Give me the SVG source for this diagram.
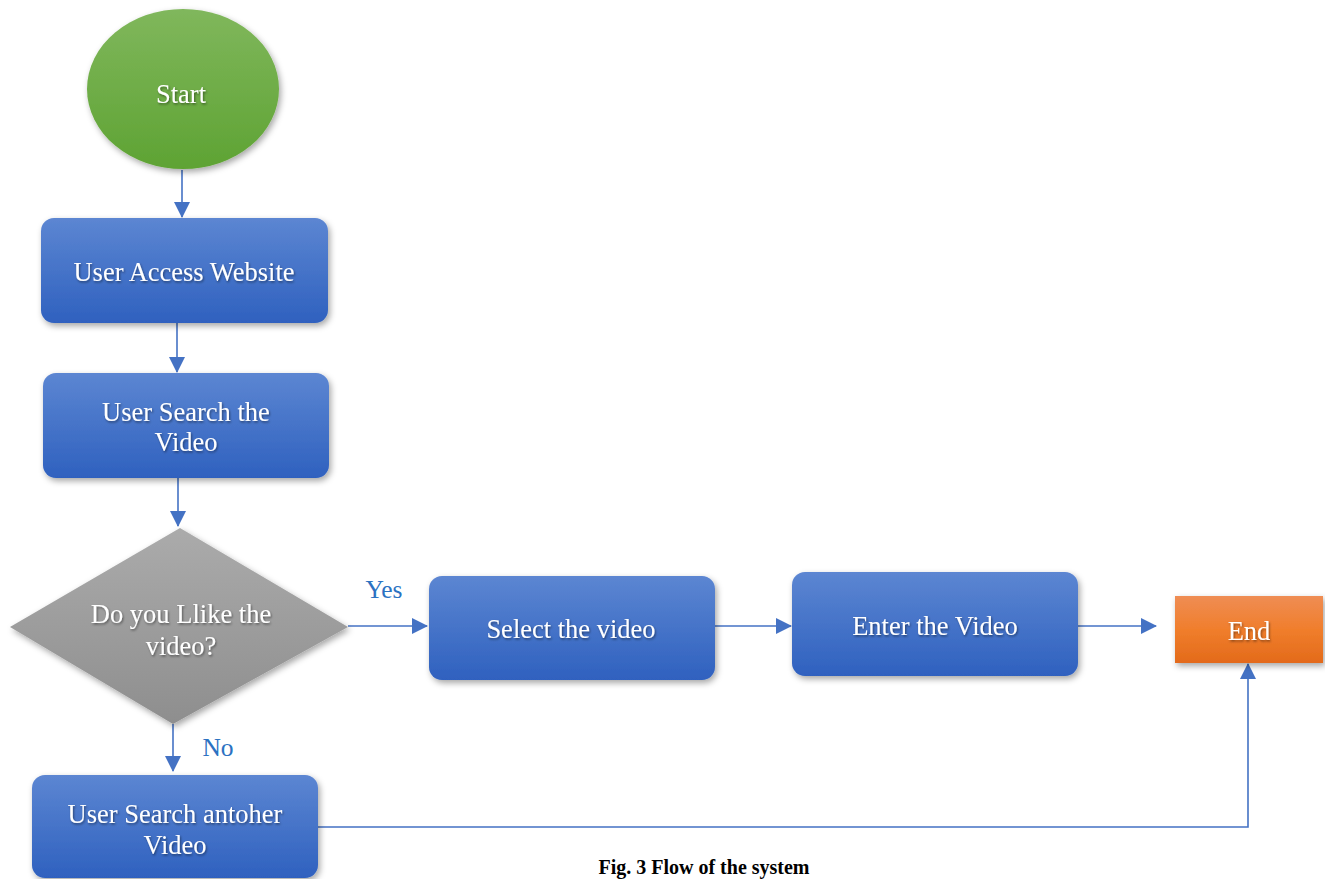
<svg xmlns="http://www.w3.org/2000/svg" width="1325" height="879" viewBox="0 0 1325 879">
<defs>
<linearGradient id="gBlue" x1="0" y1="0" x2="0" y2="1"><stop offset="0" stop-color="#5C86D2"/><stop offset="1" stop-color="#2F61BF"/></linearGradient>
<linearGradient id="gGreen" x1="0" y1="0" x2="0" y2="1"><stop offset="0" stop-color="#80B75C"/><stop offset="1" stop-color="#5EA333"/></linearGradient>
<linearGradient id="gGrey" x1="0" y1="0" x2="0" y2="1"><stop offset="0" stop-color="#ABABAB"/><stop offset="1" stop-color="#8E8E8E"/></linearGradient>
<linearGradient id="gOrange" x1="0" y1="0" x2="0" y2="1"><stop offset="0" stop-color="#EF8D54"/><stop offset="0.5" stop-color="#F07E2C"/><stop offset="1" stop-color="#E36A1A"/></linearGradient>
<filter id="shadow" x="-20%" y="-20%" width="140%" height="150%"><feDropShadow dx="2" dy="3" stdDeviation="3" flood-color="#000" flood-opacity="0.35"/></filter>
<filter id="tshadow" x="-10%" y="-30%" width="120%" height="160%"><feDropShadow dx="1" dy="1.5" stdDeviation="1.2" flood-color="#000" flood-opacity="0.45"/></filter>
<marker id="arrowL" markerWidth="16" markerHeight="16" refX="15" refY="8" orient="auto" markerUnits="userSpaceOnUse" viewBox="0 0 16 16"><path d="M0,0 L16,8 L0,16 z" fill="#4472C4"/></marker>
</defs>
<style>
.box{fill:url(#gBlue);filter:url(#shadow);}
.t{font-family:"Liberation Serif","Times New Roman",serif;font-size:26.5px;fill:#FFFFFF;text-anchor:middle;filter:url(#tshadow);}
.lbl{font-family:"Liberation Serif","Times New Roman",serif;font-size:25.5px;fill:#2B72C2;text-anchor:middle;}
.c{fill:none;stroke:#4472C4;stroke-width:1.6;marker-end:url(#arrowL);}
.cap{font-family:"Liberation Serif","Times New Roman",serif;font-size:20px;font-weight:bold;fill:#000;text-anchor:middle;}
</style>
<rect width="1325" height="879" fill="#FFFFFF"/>

<g id="connectors">
<path class="c" d="M182,170 L182,217"/>
<path class="c" d="M177,323 L177,372"/>
<path class="c" d="M178,478 L178,526"/>
<path class="c" d="M348,626 L427,626"/>
<path class="c" d="M715,626 L791,626"/>
<path class="c" d="M1078,626 L1156,626"/>
<path class="c" d="M173,724 L173,771"/>
<path class="c" d="M318,827 L1248,827 L1248,664"/>
<text class="lbl" x="384" y="598">Yes</text>
<text class="lbl" x="218" y="756">No</text>
</g>

<g id="start">
<ellipse cx="183" cy="89" rx="96" ry="80" fill="url(#gGreen)" filter="url(#shadow)"/>
<text class="t" x="181" y="103">Start</text>
</g>

<g id="access">
<rect class="box" x="41" y="218" width="287" height="105" rx="13"/>
<text class="t" x="184" y="281">User Access Website</text>
</g>

<g id="search">
<rect class="box" x="43" y="373" width="286" height="105" rx="13"/>
<text class="t" x="186" y="421">User Search the</text>
<text class="t" x="186" y="451">Video</text>
</g>

<g id="decision">
<polygon points="180,528 348,627 173,724 10,627" fill="url(#gGrey)" filter="url(#shadow)"/>
<text class="t" x="181" y="623">Do you Llike the</text>
<text class="t" x="181" y="655">video?</text>
</g>

<g id="select">
<rect class="box" x="429" y="576" width="286" height="104" rx="13"/>
<text class="t" x="571" y="638">Select the video</text>
</g>

<g id="enter">
<rect class="box" x="792" y="572" width="286" height="104" rx="13"/>
<text class="t" x="935" y="635">Enter the Video</text>
</g>

<g id="end">
<rect x="1175" y="596" width="148" height="67" fill="url(#gOrange)" filter="url(#shadow)"/>
<text class="t" x="1249" y="640">End</text>
</g>

<g id="another">
<rect class="box" x="32" y="775" width="286" height="103" rx="13"/>
<text class="t" x="175" y="823">User Search antoher</text>
<text class="t" x="175" y="854">Video</text>
</g>

<text class="cap" x="704" y="874">Fig. 3 Flow of the system</text>
</svg>
